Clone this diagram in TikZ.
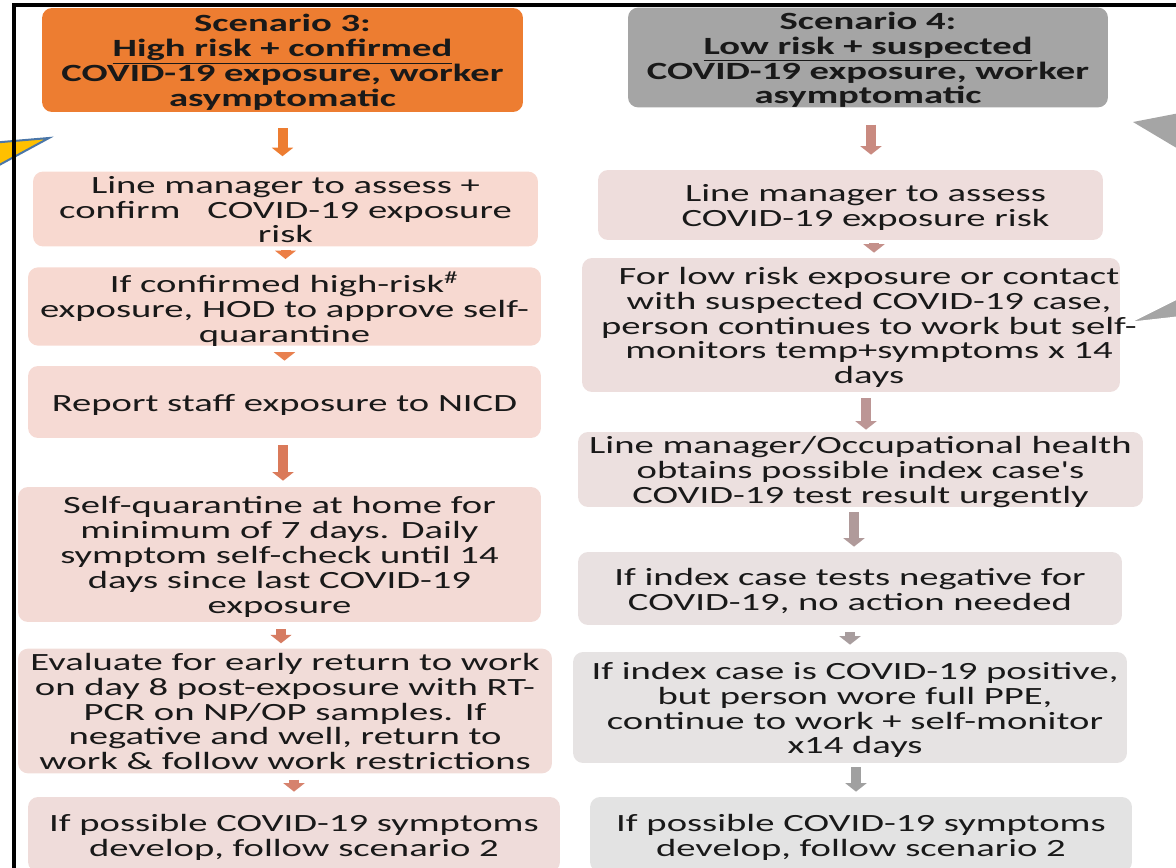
\documentclass[tikz,border=0pt]{standalone}
\usepackage{fontspec}
\usepackage{graphicx}
\setmainfont{Carlito}
\usepackage{xcolor}
\usepackage{tikz}
\usetikzlibrary{arrows.meta}

\definecolor{cam}{HTML}{ED7D31}
\definecolor{xam}{HTML}{A5A5A5}
\definecolor{vang}{HTML}{FFC000}
\definecolor{vienxanh}{HTML}{4A76A8}
% nen cac hop ben trai / ben phai
\definecolor{nenL1}{HTML}{F8D9D0}
\definecolor{nenL2}{HTML}{F7D9D1}
\definecolor{nenL3}{HTML}{F6DAD4}
\definecolor{nenL4}{HTML}{F3DAD5}
\definecolor{nenL5}{HTML}{F1DCD8}
\definecolor{nenL6}{HTML}{EFDCDA}
\definecolor{nenR1}{HTML}{EEDDDC}
\definecolor{nenR2}{HTML}{EDDEDD}
\definecolor{nenR3}{HTML}{ECE0DF}
\definecolor{nenR4}{HTML}{E9E1E1}
\definecolor{nenR5}{HTML}{E6E3E3}
\definecolor{nenR6}{HTML}{E3E3E3}
% mau mui ten
\definecolor{tenL1}{HTML}{ED7D31}
\definecolor{tenL2}{HTML}{EC7E45}
\definecolor{tenL3}{HTML}{E8804F}
\definecolor{tenL4}{HTML}{DA7A5A}
\definecolor{tenL5}{HTML}{D67C62}
\definecolor{tenL6}{HTML}{D6826D}
\definecolor{tenR1}{HTML}{C98A80}
\definecolor{tenR2}{HTML}{C4908A}
\definecolor{tenR3}{HTML}{BC9695}
\definecolor{tenR4}{HTML}{B09A9A}
\definecolor{tenR5}{HTML}{A89D9E}
\definecolor{tenR6}{HTML}{A0A0A0}

\newcommand{\gian}[1]{\raisebox{-2.3pt}[\height][\depth]{\scalebox{1.56}[1]{\begin{tabular}{@{}c@{}}#1\end{tabular}}}}
\newcommand{\lech}[2]{\hspace*{#1}#2\hspace*{-#1}}

\begin{document}
\begin{tikzpicture}[x=0.02cm, y=-0.02cm,
    box/.style={rounded corners=0.2cm, inner sep=0pt, text=black!90,
        font=\fontsize{14.1}{14.2}\selectfont},
    head/.style={box, font=\fontsize{14.1}{14.2}\selectfont\bfseries},
    flow/.style={draw=#1, line width=0.2cm, -{Triangle[length=0.17cm, width=0.42cm]}}]
    \useasboundingbox (0,0) rectangle (1176,868);

    % Cac mui ten tam giac o mep
    \draw[fill=vang, draw=vienxanh, line width=0.04cm] (-10,143) -- (49,138) -- (-10,170) -- cycle;
    \fill[xam] (1133,122) -- (1190,111) -- (1190,156) -- cycle;
    \draw[fill=xam, draw=white, line width=0.04cm] (1128,323) -- (1190,292) -- (1190,316) -- cycle;

    % Khung
    \draw[line width=0.08cm] (1180,5) -- (14,5) -- (14,872);

    % Cot trai
    \node[head, fill=cam, minimum width=9.62cm, minimum height=2.08cm] (L0) at (282.5,60)
        {\gian{Scenario 3:\\ \underline{High risk + confirmed}\\ COVID-19 exposure, worker\\ asymptomatic}};
    \node[box, fill=nenL1, minimum width=10.1cm, minimum height=1.44cm] (L1) at (285.5,209)
        {\gian{Line manager to assess +\\ confirm\hspace{0.7em}COVID-19 exposure\\ risk}};
    \node[box, fill=nenL2, minimum width=10.26cm, minimum height=1.46cm] (L2) at (284.5,306.5)
        {\gian{If confirmed high-risk\textsuperscript{\#}\\ exposure, HOD to approve self-\\ quarantine}};
    \node[box, fill=nenL3, minimum width=10.26cm, minimum height=1.44cm] (L3) at (284.5,402)
        {\gian{Report staff exposure to NICD}};
    \node[box, fill=nenL4, minimum width=10.46cm, minimum height=2.7cm] (L4) at (279.5,554.5)
        {\gian{Self-quarantine at home for\\ minimum of 7 days. Daily\\ symptom self-check until 14\\ days since last COVID-19\\ exposure}};
    \node[box, fill=nenL5, minimum width=10.68cm, minimum height=2.36cm] (L5) at (285,711)
        {\gian{Evaluate for early return to work\\ on day 8 post-exposure with RT-\\ PCR on NP/OP samples. If\\ negative and well, return to\\ work \& follow work restrictions}};
    \node[box, fill=nenL6, minimum width=10.64cm, minimum height=1.5cm] (L6) at (294,834.5)
        {\gian{If possible COVID-19 symptoms\\ develop, follow scenario 2}};

    % Cot phai
    \node[head, fill=xam, minimum width=9.6cm, minimum height=1.98cm] (R0) at (868,57.5)
        {\gian{Scenario 4:\\ \underline{Low risk + suspected}\\ COVID-19 exposure, worker\\ asymptomatic}};
    \node[box, fill=nenR1, minimum width=10.1cm, minimum height=1.4cm] (R1) at (850.5,205)
        {\lech{0.3cm}{\gian{Line manager to assess\\ COVID-19 exposure risk}}};
    \node[box, fill=nenR2, minimum width=10.76cm, minimum height=2.68cm] (R2) at (851,325)
        {\lech{0.36cm}{\gian{For low risk exposure or contact\\ with suspected COVID-19 case,\\ person continues to work but self-\\ monitors temp+symptoms x 14\\ days}}};
    \node[box, fill=nenR3, minimum width=11.3cm, minimum height=1.5cm] (R3) at (860.5,469.5)
        {\gian{Line manager/Occupational health\\ obtains possible index case\textquotesingle s\\ COVID-19 test result urgently}};
    \node[box, fill=nenR4, minimum width=10.88cm, minimum height=1.46cm] (R4) at (850,588.5)
        {\gian{If index case tests negative for\\ COVID-19, no action needed}};
    \node[box, fill=nenR5, minimum width=11.08cm, minimum height=2.22cm] (R5) at (850,707.5)
        {\lech{0.1cm}{\gian{If index case is COVID-19 positive,\\ but person wore full PPE,\\ continue to work + self-monitor\\ x14 days}}};
    \node[box, fill=nenR6, minimum width=10.84cm, minimum height=1.5cm] (R6) at (861,834.5)
        {\gian{If possible COVID-19 symptoms\\ develop, follow scenario 2}};

    % Mui ten ben trai
    \draw[flow=tenL1, shorten <=0.32cm, shorten >=0.3cm] (L0.south) -- (L0.south |- L1.north);
    \draw[flow=tenL2, shorten <=0.06cm, shorten >=0.16cm] (L1.south) -- (L1.south |- L2.north);
    \draw[flow=tenL3, shorten <=0.12cm, shorten >=0.1cm] (L2.south) -- (L2.south |- L3.north);
    \draw[flow=tenL4, shorten <=0.14cm, shorten >=0.12cm] ([xshift=-0.03cm]L3.south) -- ([xshift=-0.03cm]L3.south |- L4.north);
    \draw[flow=tenL5, shorten <=0.14cm, shorten >=0.1cm] ([xshift=0.03cm]L4.south) -- ([xshift=0.03cm]L4.south |- L5.north);
    \draw[flow=tenL6, shorten <=0.12cm, shorten >=0.1cm] (L5.south -| L6.north) -- (L6.north);

    % Mui ten ben phai
    \draw[flow=tenR1, shorten <=0.34cm, shorten >=0.3cm] ([xshift=0.06cm]R0.south) -- ([xshift=0.06cm]R0.south |- R1.north);
    \draw[flow=tenR2, shorten <=0.06cm, shorten >=0.1cm] ([xshift=0.47cm]R1.south) -- ([xshift=0.47cm]R1.south |- R2.north);
    \draw[flow=tenR3, shorten <=0.12cm, shorten >=0.04cm] ([xshift=0.3cm]R2.south) -- ([xshift=0.3cm]R2.south |- R3.north);
    \draw[flow=tenR4, shorten <=0.1cm, shorten >=0.1cm] ([xshift=-0.13cm]R3.south) -- ([xshift=-0.13cm]R3.south |- R4.north);
    \draw[flow=tenR5, shorten <=0.14cm, shorten >=0.14cm] (R4.south) -- (R4.south |- R5.north);
    \draw[flow=tenR6, shorten <=0.08cm, shorten >=0.1cm] ([xshift=0.12cm]R5.south) -- ([xshift=0.12cm]R5.south |- R6.north);
\end{tikzpicture}
\end{document}
